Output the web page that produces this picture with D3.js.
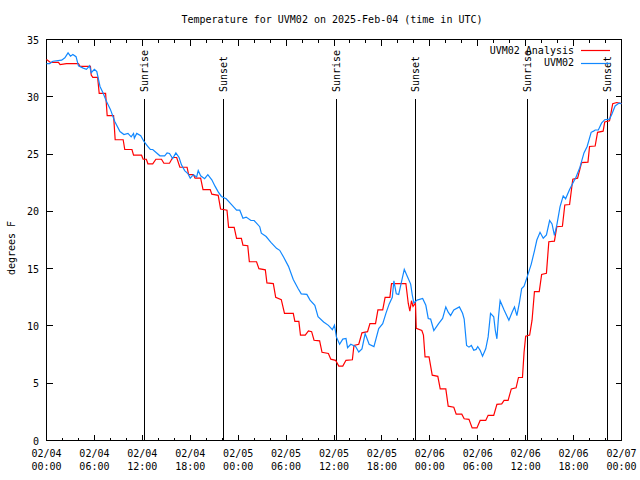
<!DOCTYPE html>
<html><head><meta charset="utf-8">
<script src="https://cdn.jsdelivr.net/npm/d3@7"></script>
<style>
body{margin:0;background:#fff;}
text{font-family:"DejaVu Sans Mono",monospace;font-size:10px;fill:#000;}
</style></head>
<body>
<svg id="chart" width="640" height="480"></svg>
<script>
// hours since 2025-02-04 00:00 UTC, degrees F
const analysisSeries = [[0,33.25],[0.5,33.0],[1.5,33.0],[1.7,32.8],[2.5,32.9],[4,32.9],[4.2,32.66],[5.5,32.66],[5.6,31.9],[5.8,31.7],[6.4,31.7],[6.6,30.3],[7.4,30.3],[7.6,28.35],[8.4,28.35],[8.6,26.25],[9.6,26.25],[9.8,25.4],[10.7,25.4],[10.9,24.9],[11.9,24.9],[12.1,24.55],[12.5,24.55],[12.7,24.15],[13.3,24.15],[13.7,24.55],[14.4,24.55],[14.7,24.2],[15.4,24.2],[15.8,24.7],[16.3,24.7],[16.7,23.85],[17.6,23.85],[17.8,23.2],[18.4,23.2],[18.6,22.9],[19.3,22.9],[19.6,21.9],[20.5,21.9],[20.7,21.5],[21.5,21.4],[21.8,20.2],[22.6,20.1],[22.8,18.6],[23.5,18.6],[23.8,17.65],[24.4,17.65],[24.6,17.05],[25.2,17.0],[25.4,15.6],[26.3,15.6],[26.6,15.0],[27.4,14.9],[27.6,13.76],[28.4,13.7],[28.7,12.5],[29.4,12.3],[29.8,11.1],[30.9,11.1],[31.1,10.4],[31.6,10.4],[31.8,9.2],[32.4,9.2],[32.8,9.56],[33.2,9.5],[33.5,8.75],[34.2,8.7],[34.5,7.7],[35.3,7.6],[35.6,7.1],[36.2,7.0],[36.6,6.5],[37.1,6.5],[37.5,7.0],[38.3,7.05],[38.5,8.3],[39.1,8.4],[39.5,9.4],[40.2,9.5],[40.5,10.2],[41.2,10.2],[41.5,11.4],[42.1,11.4],[42.4,12.5],[43.0,12.5],[43.2,13.7],[45.0,13.7],[45.3,11.96],[45.5,11.3],[45.7,12.2],[45.9,11.7],[46.2,12.0],[46.3,9.8],[47.0,9.6],[47.2,9.2],[47.4,7.3],[47.9,7.3],[48.3,5.7],[49.0,5.6],[49.3,4.5],[50.0,4.5],[50.3,3.0],[51.0,2.9],[51.3,2.3],[52.0,2.3],[52.3,1.9],[52.9,1.85],[53.3,1.1],[53.9,1.1],[54.3,1.75],[55.0,1.75],[55.3,2.2],[56.0,2.2],[56.4,3.15],[57.0,3.2],[57.3,3.5],[57.8,3.5],[58.2,4.5],[58.8,4.6],[59.1,5.5],[59.6,5.5],[59.8,7.7],[60.0,9.1],[60.5,9.2],[60.8,10.5],[61.1,13.0],[61.7,13.0],[62.0,14.5],[62.6,14.6],[62.9,17.35],[63.6,17.4],[63.9,18.66],[64.6,18.7],[64.9,20.56],[65.5,20.6],[65.9,22.8],[66.5,22.9],[67.0,24.26],[67.8,24.3],[68.0,25.66],[68.7,25.7],[69.0,26.9],[69.7,27.0],[69.9,27.8],[70.5,27.9],[70.9,29.4],[71.4,29.5],[72,29.4]];

const observedSeries = [[0,32.9],[0.4,32.9],[0.8,33.1],[1.9,33.2],[2.3,33.4],[2.7,33.83],[3.0,33.55],[3.3,33.7],[3.7,33.5],[4.0,32.7],[4.6,32.5],[5.0,32.4],[5.4,32.7],[5.6,32.1],[6.0,32.4],[6.3,32.2],[6.7,30.9],[7.1,30.3],[7.5,29.6],[8.0,28.9],[8.55,27.85],[9.2,26.97],[9.7,26.7],[10.2,26.8],[10.6,26.5],[10.9,26.8],[11.0,26.4],[11.3,26.8],[11.8,26.6],[12.2,26.1],[12.7,25.66],[13.0,25.4],[13.3,25.4],[14.2,24.85],[14.8,24.85],[15.1,25.1],[15.4,25.05],[15.8,24.6],[16.2,25.1],[16.6,24.7],[16.9,24.06],[17.3,23.56],[17.7,23.3],[18.0,22.9],[18.4,23.2],[18.8,23.0],[19.0,23.56],[19.3,23.1],[19.8,22.85],[20.2,23.2],[20.7,22.75],[21.1,22.2],[21.5,21.7],[21.9,21.3],[22.5,21.1],[23.2,20.56],[23.8,20.1],[24.2,20.1],[24.6,19.4],[25.0,19.5],[25.6,19.2],[26.0,19.2],[26.7,18.66],[26.9,18.1],[27.5,17.8],[28.1,17.3],[28.8,16.77],[29.2,16.6],[29.7,16.0],[30.3,15.2],[30.9,14.06],[31.5,13.27],[31.9,12.8],[32.6,12.75],[33.0,12.25],[33.6,11.8],[34.0,10.8],[34.7,10.35],[35.3,10.05],[35.8,9.68],[36.06,10.06],[36.3,9.04],[36.7,8.4],[37.1,8.85],[37.5,8.9],[37.7,8.1],[38.1,8.4],[38.7,8.2],[39.1,7.73],[39.5,8.0],[39.9,9.33],[40.4,8.4],[41.0,8.2],[41.6,9.77],[42.1,10.2],[42.5,11.1],[42.9,11.9],[43.3,12.5],[43.5,13.94],[43.8,12.8],[44.1,12.75],[44.4,13.7],[44.8,14.93],[45.2,14.3],[45.6,13.65],[45.8,12.7],[46.0,12.0],[46.4,12.25],[47.1,12.4],[47.5,11.8],[47.8,10.65],[48.1,10.6],[48.5,9.6],[49.1,10.2],[49.6,10.65],[50.0,11.66],[50.3,11.2],[50.6,10.9],[51.0,11.4],[51.7,11.66],[52.1,11.1],[52.3,10.6],[52.6,8.3],[52.9,8.15],[53.2,8.3],[53.5,7.87],[53.8,7.95],[54.0,8.2],[54.3,7.87],[54.6,7.35],[55.0,8.0],[55.3,9.04],[55.6,11.1],[56.0,10.8],[56.2,9.6],[56.4,8.88],[56.6,10.8],[56.8,12.2],[57.3,11.4],[57.9,10.5],[58.3,11.2],[58.6,11.66],[58.9,10.9],[59.2,11.96],[59.5,13.27],[59.8,13.47],[60.2,14.3],[60.7,15.4],[61.1,16.56],[61.4,17.5],[61.8,18.17],[62.2,17.66],[62.6,17.95],[63.0,19.2],[63.3,18.9],[63.6,17.9],[63.9,18.8],[64.3,20.4],[64.7,21.35],[65.0,21.1],[65.5,21.9],[65.9,22.45],[66.3,22.98],[66.8,23.86],[67.3,25.1],[67.7,25.66],[68.2,26.9],[68.5,27.0],[68.7,27.1],[69.1,27.1],[69.5,27.7],[69.9,28.0],[70.5,28.05],[70.8,28.5],[71.2,29.2],[71.7,29.45],[72,29.4]];

const sunEvents = [["Sunrise",12.18],["Sunset",22.08],["Sunrise",36.23],["Sunset",46.12],["Sunrise",60.15],["Sunset",70.2]];
const seriesNames = ["UVM02 Analysis","UVM02"];
const seriesColors = ["#ff0000","#1188ff"];
const xTickHours = [0,6,12,18,24,30,36,42,48,54,60,66,72];
const xTickLabels = ["02/04\n00:00","02/04\n06:00","02/04\n12:00","02/04\n18:00","02/05\n00:00","02/05\n06:00","02/05\n12:00","02/05\n18:00","02/06\n00:00","02/06\n06:00","02/06\n12:00","02/06\n18:00","02/07\n00:00"];
const yTicks = [0,5,10,15,20,25,30,35];
const titleText = "Temperature for UVM02 on 2025-Feb-04 (time in UTC)";
const yLabel = "degrees F";

const svg = d3.select("#chart");
const L=46.5, R=621.5, T=39.5, B=440.5;
const x = d3.scaleLinear().domain([0,72]).range([L,R]);
const y = d3.scaleLinear().domain([0,35]).range([B,T]);

svg.append("text").attr("x",332).attr("y",23).attr("text-anchor","middle").text(titleText);
svg.append("text").attr("transform","translate(15,248) rotate(-90)").attr("text-anchor","middle").text(yLabel);

const g = svg.append("g").attr("shape-rendering","crispEdges");
// minor x ticks every 2h
const minor = d3.range(0,73,2);
g.selectAll(".mxb").data(minor).join("line").attr("x1",d=>x(d)).attr("x2",d=>x(d)).attr("y1",B).attr("y2",d=>B-(d%6===0?6:3)).attr("stroke","#000");
g.selectAll(".mxt").data(minor).join("line").attr("x1",d=>x(d)).attr("x2",d=>x(d)).attr("y1",T).attr("y2",d=>T+(d%6===0?6:3)).attr("stroke","#000");
g.selectAll(".yl").data(yTicks).join("line").attr("x1",L).attr("x2",L+6).attr("y1",d=>y(d)).attr("y2",d=>y(d)).attr("stroke","#000");
g.selectAll(".yr").data(yTicks).join("line").attr("x1",R).attr("x2",R-6).attr("y1",d=>y(d)).attr("y2",d=>y(d)).attr("stroke","#000");

svg.selectAll(".ytl").data(yTicks).join("text").attr("x",39).attr("y",d=>y(d)+4).attr("text-anchor","end").text(d=>d);
const xt = svg.selectAll(".xtl").data(xTickHours).join("text").attr("text-anchor","middle");
xt.each(function(d,i){
  const parts = xTickLabels[i].split("\n");
  const t = d3.select(this);
  parts.forEach((p,j)=>t.append("tspan").attr("x",x(d)).attr("y",457+j*13).text(p));
});

// sun events
sunEvents.forEach(([name,h])=>{
  const xx = Math.round(x(h))+0.5;
  g.append("line").attr("x1",xx).attr("x2",xx).attr("y1",99).attr("y2",B).attr("stroke","#000");
  svg.append("text").attr("transform",`translate(${xx+3.5},92) rotate(-90)`).attr("text-anchor","start").text(name);
});

const line = d3.line().x(d=>x(d[0])).y(d=>y(d[1]));
[analysisSeries, observedSeries].forEach((s,i)=>{
  svg.append("path").datum(s).attr("d",line).attr("fill","none").attr("stroke",seriesColors[i]).attr("stroke-width",1.2);
});

// frame
g.append("rect").attr("x",L).attr("y",T).attr("width",R-L).attr("height",B-T).attr("fill","none").attr("stroke","#000");

// legend
seriesNames.forEach((n,i)=>{
  const yy = 50 + i*12.5;
  svg.append("text").attr("x",574).attr("y",yy+3.5).attr("text-anchor","end").text(n);
  svg.append("line").attr("x1",581).attr("x2",610).attr("y1",Math.round(yy)+0.5).attr("y2",Math.round(yy)+0.5).attr("stroke",seriesColors[i]).attr("stroke-width",1.2);
});
</script>
</body></html>
